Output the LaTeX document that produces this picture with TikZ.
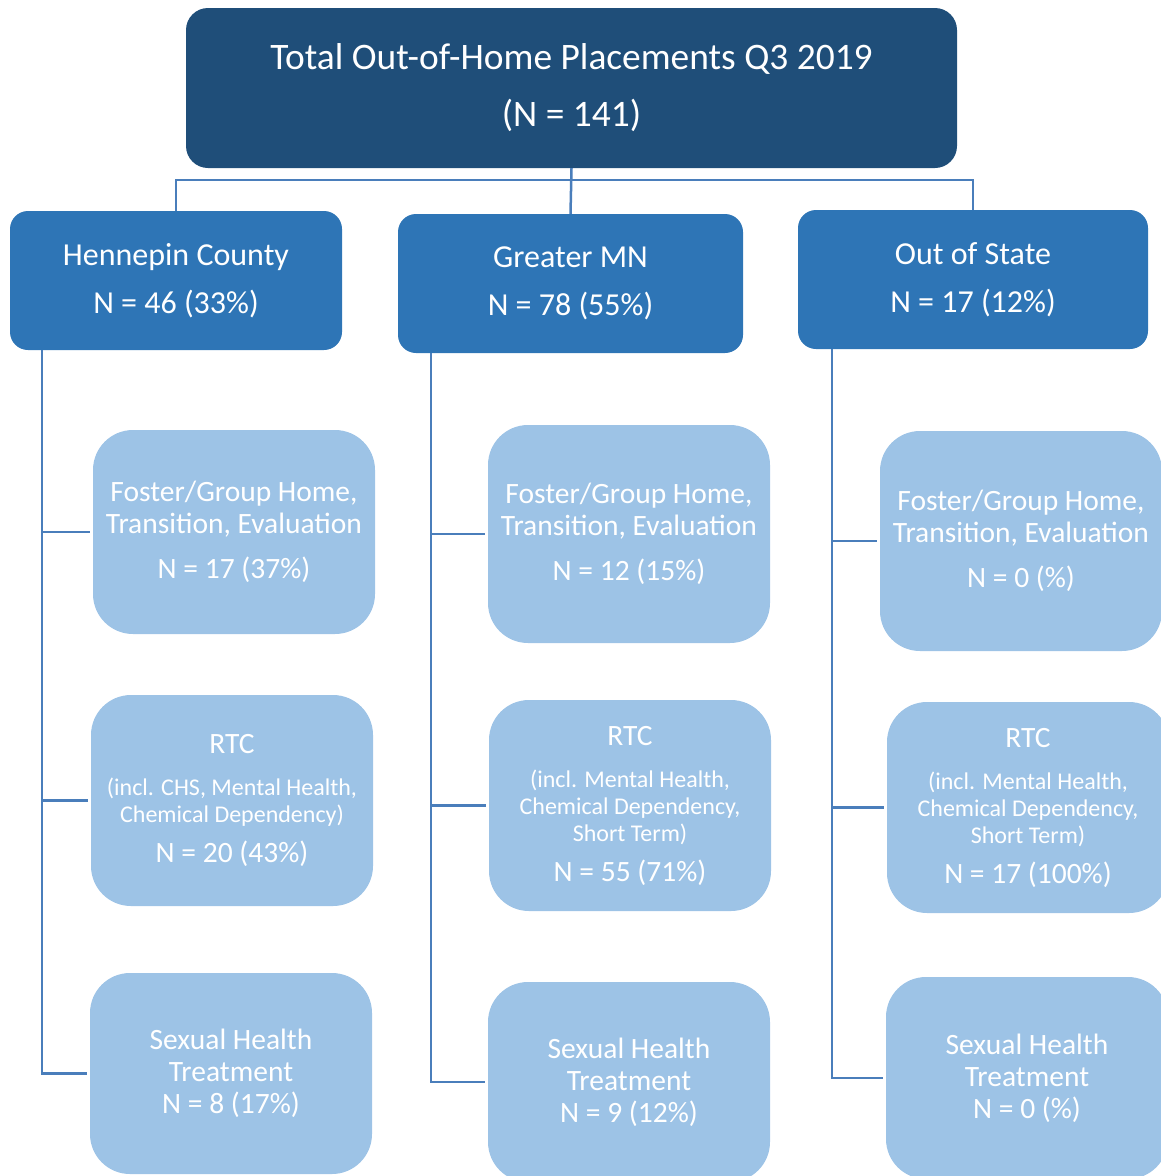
\documentclass[tikz,border=0pt]{standalone}
\usepackage{fontspec}
\setmainfont{Carlito}
\usepackage{tikz}
\usetikzlibrary{positioning}

\definecolor{topblue}{HTML}{1F4E79}
\definecolor{midblue}{HTML}{2E75B6}
\definecolor{lightblue}{HTML}{9DC3E6}
\definecolor{linkblue}{HTML}{4A7EBB}

\newcommand{\smalltxt}{\fontsize{24}{27}\selectfont}
\newcommand{\bigtxt}{\fontsize{29.5}{32}\selectfont}

\begin{document}
\begin{tikzpicture}[x=1pt,y=-1pt,
  topbox/.style={fill=topblue,text=white,rounded corners=22pt,align=center,
    minimum width=771pt,minimum height=160pt,inner sep=0pt,
    font=\fontsize{37.4}{57}\selectfont},
  regionbox/.style={fill=midblue,text=white,rounded corners=18pt,align=center,
    minimum height=139pt,inner sep=0pt,font=\fontsize{32}{48}\selectfont},
  typebox/.style={fill=lightblue,text=white,rounded corners=40pt,align=center,
    minimum width=282pt,inner sep=0pt,font=\bigtxt},
  link/.style={draw=linkblue,line width=2.5pt}]
\useasboundingbox (0,0) rectangle (1160,1176);

\node[topbox] (total) at (571.5,88) {Total Out-of-Home Placements Q3 2019\\(N = 141)};

\node[regionbox,minimum width=332pt] (hc) at (176,280.5) {Hennepin County\\N = 46 (33\%)};
\node[regionbox,minimum width=345pt] (gm) at (570.5,283.5) {Greater MN\\N = 78 (55\%)};
\node[regionbox,minimum width=350pt] (os) at (973,279.5) {Out of State\\N = 17 (12\%)};

\node[typebox,minimum height=204pt] (hcFoster) at (234,532) {Foster/Group Home,\\Transition, Evaluation\\[13pt]N = 17 (37\%)};
\node[typebox,minimum height=211pt] (hcRtc) at (232,800.5) {RTC\\[10pt]\smalltxt (incl. CHS, Mental Health,\\[-5pt]\smalltxt Chemical Dependency)\\[8pt]\bigtxt N = 20 (43\%)};
\node[typebox,minimum height=201pt] (hcSex) at (231,1073.5) {Sexual Health\\Treatment\\N = 8 (17\%)};

\node[typebox,minimum height=218pt] (gmFoster) at (629,534) {Foster/Group Home,\\Transition, Evaluation\\[13pt]N = 12 (15\%)};
\node[typebox,minimum height=211pt] (gmRtc) at (630,805.5) {RTC\\[10pt]\smalltxt (incl. Mental Health,\\[-5pt]\smalltxt Chemical Dependency,\\[-5pt]\smalltxt Short Term)\\[8pt]\bigtxt N = 55 (71\%)};
\node[typebox,minimum height=200pt] (gmSex) at (629,1082) {Sexual Health\\Treatment\\N = 9 (12\%)};

\node[typebox,minimum height=220pt] (osFoster) at (1021,541) {Foster/Group Home,\\Transition, Evaluation\\[13pt]N = 0 (\%)};
\node[typebox,minimum height=211pt] (osRtc) at (1028,807.5) {RTC\\[10pt]\smalltxt (incl. Mental Health,\\[-5pt]\smalltxt Chemical Dependency,\\[-5pt]\smalltxt Short Term)\\[8pt]\bigtxt N = 17 (100\%)};
\node[typebox,minimum height=202pt] (osSex) at (1027,1078) {Sexual Health\\Treatment\\N = 0 (\%)};

\coordinate (bar) at ([yshift=-12pt]total.south);
\draw[link] (hc.north) |- (bar) -| (os.north);
\draw[link] (total.south) -- (gm.north);

\coordinate (hcT) at ([xshift=32pt]hc.south west);
\coordinate (gmT) at ([xshift=33pt]gm.south west);
\coordinate (osT) at ([xshift=34pt]os.south west);
\draw[link] (hcT) |- ([xshift=-3pt]hcSex.west);
\draw[link] (hcT |- hcFoster.west) -- ([xshift=-3pt]hcFoster.west);
\draw[link] (hcT |- hcRtc.west) -- ([xshift=-3pt]hcRtc.west);
\draw[link] (gmT) |- ([xshift=-3pt]gmSex.west);
\draw[link] (gmT |- gmFoster.west) -- ([xshift=-3pt]gmFoster.west);
\draw[link] (gmT |- gmRtc.west) -- ([xshift=-3pt]gmRtc.west);
\draw[link] (osT) |- ([xshift=-3pt]osSex.west);
\draw[link] (osT |- osFoster.west) -- ([xshift=-3pt]osFoster.west);
\draw[link] (osT |- osRtc.west) -- ([xshift=-3pt]osRtc.west);
\end{tikzpicture}
\end{document}
